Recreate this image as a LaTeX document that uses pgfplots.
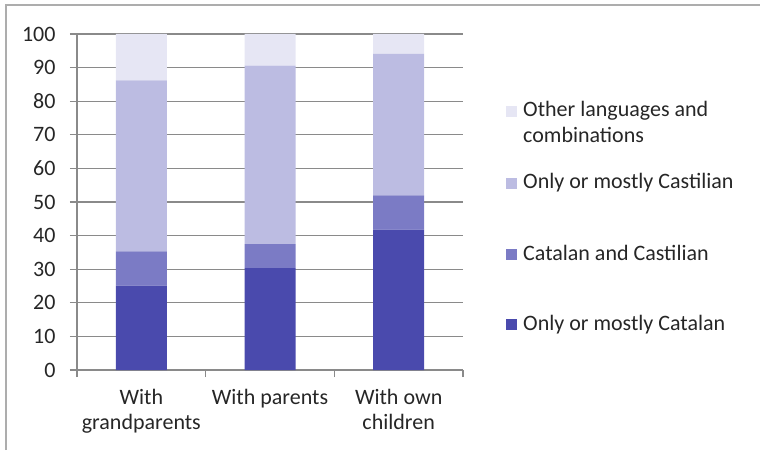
\documentclass[border=0pt]{standalone}
\usepackage{pgfplots}
\pgfplotsset{compat=1.18}
\usepackage{fontspec}
\setmainfont{Carlito}
\definecolor{cCat}{HTML}{4A4AAD}
\definecolor{cBoth}{HTML}{7B7BC5}
\definecolor{cCas}{HTML}{BCBCE2}
\definecolor{cOth}{HTML}{E6E6F4}
\definecolor{gridc}{HTML}{8A8A8A}
\definecolor{txt}{HTML}{262626}
\begin{document}
\begin{tikzpicture}
\useasboundingbox (-77pt,-80pt) rectangle (683pt,370pt);
\draw[gridc!70, line width=1.5pt] (-71pt,-80pt) -- (-71pt,365pt) -- (683pt,365pt);
\begin{axis}[
  at={(0pt,0pt)}, anchor=south west,
  scale only axis, width=386pt, height=336pt,
  ybar stacked, bar width=51pt,
  xmin=-0.5, xmax=2.5, ymin=0, ymax=100,
  xtick={0,1,2},
  xticklabels={{With\\grandparents},{With parents},{With own\\children}},
  minor xtick={-0.5,0.5,1.5,2.5},
  ytick={0,10,...,100},
  axis x line*=bottom, axis y line*=left,
  axis line style={gridc, line width=1.2pt, -},
  major x tick style={draw=none},
  minor tick length=7pt, major tick length=7pt,
  tick align=outside,
  tick style={gridc, line width=1.2pt},
  ymajorgrids, grid style={gridc, line width=1.2pt},
  /pgf/number format/assume math mode=true,
  every tick label/.append style={font=\fontsize{22}{25}\selectfont, text=txt},
  xticklabel style={align=center, anchor=north, yshift=-9pt},
  yticklabel style={xshift=-11pt},
  clip=false,
]
\addplot[fill=cCat, draw=none] coordinates {(0,25.1) (1,30.3) (2,41.8)};
\addplot[fill=cBoth, draw=none] coordinates {(0,10.2) (1,7.2) (2,10.2)};
\addplot[fill=cCas, draw=none] coordinates {(0,50.9) (1,53.1) (2,42.1)};
\addplot[fill=cOth, draw=none] coordinates {(0,13.8) (1,9.4) (2,5.9)};
\end{axis}
\begin{scope}[every node/.style={font=\fontsize{22}{26}\selectfont, text=txt, inner sep=0pt}]
\fill[cOth] (429pt,253pt) rectangle ++(11pt,11pt);
\node[anchor=base west, align=left] at (446pt,253pt) {Other languages and};
\node[anchor=base west, align=left] at (446pt,227pt) {combinations};
\fill[cCas] (429pt,181pt) rectangle ++(11pt,11pt);
\node[anchor=base west] at (446pt,181pt) {Only or mostly Castilian};
\fill[cBoth] (429pt,110pt) rectangle ++(11pt,11pt);
\node[anchor=base west] at (446pt,110pt) {Catalan and Castilian};
\fill[cCat] (429pt,40pt) rectangle ++(11pt,11pt);
\node[anchor=base west] at (446pt,40pt) {Only or mostly Catalan};
\end{scope}
\end{tikzpicture}
\end{document}
